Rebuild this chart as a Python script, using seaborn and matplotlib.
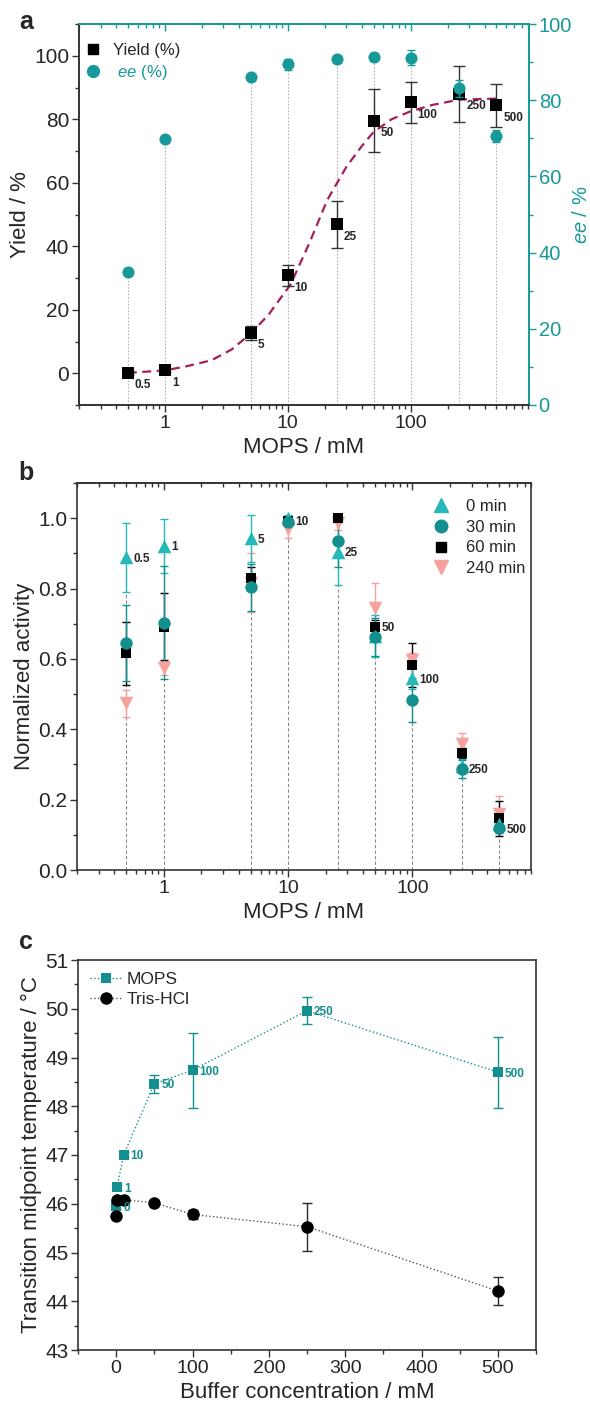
import matplotlib
matplotlib.use("Agg")
import numpy as np
import matplotlib.pyplot as plt
from matplotlib.ticker import FuncFormatter, MultipleLocator, NullFormatter, FormatStrFormatter
from matplotlib.lines import Line2D
import seaborn as sns

sns.set_style("ticks")
plt.rcParams['font.family'] = ['Liberation Sans', 'DejaVu Sans']
plt.rcParams['mathtext.fontset'] = 'custom'
plt.rcParams['mathtext.rm'] = 'Liberation Sans'
plt.rcParams['mathtext.it'] = 'Liberation Sans:italic'

TEAL = '#17999a'
TEAL_LIGHT = '#25b9b9'
TEAL_DARK = '#148f8f'
PINK = '#f5a29d'
CRIMSON = '#a51d5c'
SPINE = '#333333'
NARROW = ['Liberation Sans Narrow', 'Liberation Sans']

# ---- panel a: yield and ee vs MOPS
mops_a = [0.5, 1, 5, 10, 25, 50, 100, 250, 500]
yield_pct = [0.1, 0.9, 12.7, 30.8, 46.9, 79.6, 85.3, 88.0, 84.4]
yield_err = [0.5, 0.5, 2.2, 3.3, 7.4, 10.0, 6.4, 8.8, 6.8]
ee_pct = [34.9, 69.7, 86.1, 89.4, 90.8, 91.4, 91.2, 83.1, 70.6]
ee_err = [0.5, 0.6, 0.8, 1.5, 0.8, 1.0, 2.0, 2.2, 1.5]
# fitted curve
fit_x = [0.5, 1, 1.5, 2.4, 3.5, 5, 7, 8.5, 10.5, 15, 21, 30, 40, 50, 70, 100, 150, 250, 500]
fit_y = [0.1, 0.9, 2.2, 4.1, 7.5, 12.5, 18.5, 23, 27.8, 41, 54.6, 65, 71.5, 76, 80, 82.5, 84.5, 86.2, 86.5]

# ---- panel b: normalized activity vs MOPS
mops_b = [0.5, 1, 5, 10, 25, 50, 100, 250, 500]
act_0 = [0.889, 0.921, 0.943, 1.0, 0.905, 0.665, 0.545, 0.296, 0.130]
err_0 = [0.098, 0.077, 0.067, 0.010, 0.095, 0.060, 0.030, 0.020, 0.020]
act_30 = [0.646, 0.703, 0.803, 0.990, 0.935, 0.662, 0.483, 0.287, 0.119]
err_30 = [0.108, 0.160, 0.067, 0.010, 0.073, 0.055, 0.062, 0.025, 0.015]
act_60 = [0.616, 0.692, 0.831, 0.993, 1.0, 0.692, 0.583, 0.332, 0.147]
err_60 = [0.090, 0.095, 0.030, 0.010, 0.010, 0.020, 0.062, 0.015, 0.050]
act_240 = [0.474, 0.573, 0.817, 0.970, 0.985, 0.744, 0.597, 0.358, 0.158]
err_240 = [0.038, 0.020, 0.083, 0.025, 0.020, 0.071, 0.020, 0.030, 0.052]
label_series_b = ['0 min', '0 min', '0 min', '60 min', '0 min', '60 min', '0 min', '30 min', '30 min']

# ---- panel c: Tm vs buffer concentration
conc_c = [0, 1, 10, 50, 100, 250, 500]
tm_mops = [45.95, 46.34, 47.01, 48.46, 48.74, 49.96, 48.70]
tm_mops_err = [0.05, 0.05, 0.05, 0.18, 0.77, 0.28, 0.73]
tm_tris = [45.75, 46.08, 46.08, 46.02, 45.78, 45.53, 44.21]
tm_tris_err = [0.05, 0.05, 0.05, 0.06, 0.10, 0.49, 0.28]

W, H = 590, 1417
fig = plt.figure(figsize=(W / 100, H / 100), dpi=100)


def box(l, r, t, b):
    return [l / W, 1 - b / H, (r - l) / W, (b - t) / H]


def style_spines(ax, color=SPINE):
    for s in ax.spines.values():
        s.set_color(color)
        s.set_linewidth(1.2)


def log_axis(ax):
    ax.set_xscale('log')
    ax.xaxis.set_major_formatter(FuncFormatter(lambda v, p: f"{v:g}"))
    ax.xaxis.set_minor_formatter(NullFormatter())


def ticks(ax, color=SPINE, **kw):
    ax.tick_params(which='both', direction='out', width=1, color=color, pad=2, **kw)
    ax.tick_params(which='major', length=5)
    ax.tick_params(which='minor', length=3)
    ax.tick_params(axis='x', labelsize=14)
    ax.tick_params(axis='y', labelsize=15)


def top_ticks(ax, color):
    sec = ax.secondary_xaxis('top')
    sec.tick_params(which='both', direction='in', labeltop=False, colors=color, width=1)
    sec.tick_params(which='major', length=5)
    sec.tick_params(which='minor', length=3)
    sec.xaxis.set_minor_formatter(NullFormatter())
    sec.spines['top'].set_color(color)
    sec.spines['top'].set_linewidth(1.2)
    return sec


# ================= panel a =================
ax = fig.add_axes(box(79, 529, 24, 405))
style_spines(ax)
log_axis(ax)
ax.set_xlim(0.2, 920)
ax.set_ylim(-10, 110)
ax2 = ax.twinx()
ax2.set_ylim(0, 100)
style_spines(ax2)
for a in (ax, ax2):
    a.spines['right'].set_color(TEAL)
    a.spines['top'].set_color(TEAL)

# drop lines from the ee points, drawn beneath the yield marks
ax.vlines(mops_a, 0, ee_pct, colors='#b5b5b5', linestyles=(0, (1.5, 1.5)), lw=0.8,
          zorder=0, transform=ax2.transData)

sns.lineplot(x=fit_x, y=fit_y, ax=ax, color=CRIMSON, lw=1.6, linestyle=(0, (4, 2.5)),
             sort=False, estimator=None, zorder=2)
ax.errorbar(mops_a, yield_pct, yerr=yield_err, fmt='none', ecolor=SPINE, elinewidth=1,
            capsize=4, capthick=1, zorder=3)
sns.scatterplot(x=mops_a, y=yield_pct, ax=ax, marker='s', color='k', s=64, linewidth=0,
                zorder=4, legend=False)
for xv, yv in zip(mops_a, yield_pct):
    ax.annotate(f"{xv:g}", (xv, yv), xytext=(5, -9), textcoords='offset points',
                ha='left', va='center', fontsize=8.5, fontweight='bold', family=NARROW)

ax2.errorbar(mops_a, ee_pct, yerr=ee_err, fmt='none', ecolor=TEAL, elinewidth=1,
             capsize=3, capthick=1, zorder=3)
sns.scatterplot(x=mops_a, y=ee_pct, ax=ax2, marker='o', color=TEAL, s=76, linewidth=0,
                zorder=4, legend=False)

ax.yaxis.set_major_locator(MultipleLocator(20))
ax.yaxis.set_minor_locator(MultipleLocator(10))
ax2.yaxis.set_major_locator(MultipleLocator(20))
ax2.yaxis.set_minor_locator(MultipleLocator(10))
ticks(ax, top=False)
ax2.tick_params(which='both', direction='out', width=1, colors=TEAL, labelsize=14.5, pad=2)
ax2.tick_params(which='major', length=5)
ax2.tick_params(which='minor', length=3)
top_ticks(ax, TEAL)
ax.set_xlabel('MOPS / mM', fontsize=16)
ax.set_ylabel('Yield / %', fontsize=16, labelpad=2)
ax2.set_ylabel(r'$\mathit{ee}$ / %', fontsize=14.5, color=TEAL, labelpad=0)

leg_a = ax.legend(handles=[Line2D([], [], marker='s', color='k', ls='none', ms=7),
                           Line2D([], [], marker='o', color=TEAL, ls='none', ms=8.5)],
                  labels=['Yield (%)', r' $\mathit{ee}$ (%)'], loc='upper left',
                  bbox_to_anchor=(-0.035, 0.985), frameon=False, fontsize=12,
                  handletextpad=0.2, labelspacing=0.3, borderaxespad=0.4)
leg_a.get_texts()[1].set_color(TEAL)
leg_a.set_zorder(10)

# ================= panel b =================
bx = fig.add_axes(box(77, 531, 483, 870))
style_spines(bx)
log_axis(bx)
bx.set_xlim(0.2, 900)
bx.set_ylim(0, 1.1)

series_b = [
    ('240 min', act_240, err_240, 'v', PINK, 95),
    ('60 min', act_60, err_60, 's', 'k', 62),
    ('0 min', act_0, err_0, '^', TEAL_LIGHT, 95),
    ('30 min', act_30, err_30, 'o', TEAL_DARK, 80),
]
tops = np.max(np.vstack([act_0, act_30, act_60, act_240]), axis=0)
bx.vlines(mops_b, 0, tops, colors='#8a8a8a', linestyles=(0, (3, 2)), lw=0.8, zorder=0)
for name, vals, errs, mk, col, sz in series_b:
    bx.errorbar(mops_b, vals, yerr=errs, fmt='none', ecolor=col, elinewidth=1,
                capsize=3, capthick=1, zorder=2)
for name, vals, errs, mk, col, sz in series_b:
    sns.scatterplot(x=mops_b, y=vals, ax=bx, marker=mk, color=col, s=sz, linewidth=0,
                    zorder=3, legend=False)
lookup_b = {name: vals for name, vals, *_ in series_b}
for i, (xv, key) in enumerate(zip(mops_b, label_series_b)):
    bx.annotate(f"{xv:g}", (xv, lookup_b[key][i]), xytext=(5, -1), textcoords='offset points',
                ha='left', va='center', fontsize=8.5, fontweight='bold', family=NARROW)

bx.yaxis.set_major_locator(MultipleLocator(0.2))
bx.yaxis.set_minor_locator(MultipleLocator(0.1))
bx.yaxis.set_major_formatter(FormatStrFormatter('%.1f'))
ticks(bx, top=False, right=False)
top_ticks(bx, SPINE)
bx.set_xlabel('MOPS / mM', fontsize=16)
bx.set_ylabel('Normalized activity', fontsize=16, labelpad=2)
leg_handles = [
    Line2D([], [], marker='^', color=TEAL_LIGHT, ls='none', ms=9.5),
    Line2D([], [], marker='o', color=TEAL_DARK, ls='none', ms=9),
    Line2D([], [], marker='s', color='k', ls='none', ms=7.5),
    Line2D([], [], marker='v', color=PINK, ls='none', ms=9.5),
]
bx.legend(handles=leg_handles, labels=['0 min', '30 min', '60 min', '240 min'], loc='upper right',
          bbox_to_anchor=(1.01, 0.985), frameon=False, fontsize=12, handletextpad=0.5,
          labelspacing=0.35, borderaxespad=0.2)

# ================= panel c =================
cx = fig.add_axes(box(78, 536, 960, 1350))
style_spines(cx)
cx.set_xlim(-50, 550)
cx.set_ylim(43, 51)
cx.errorbar(conc_c, tm_mops, yerr=tm_mops_err, fmt='none', ecolor=TEAL_DARK, elinewidth=1,
            capsize=3.5, capthick=1, zorder=2)
cx.errorbar(conc_c, tm_tris, yerr=tm_tris_err, fmt='none', ecolor='#2a2a2a', elinewidth=1,
            capsize=3.5, capthick=1, zorder=2)
sns.lineplot(x=conc_c, y=tm_mops, ax=cx, color=TEAL_DARK, lw=1, linestyle=':', marker='s',
             markersize=7.5, markeredgewidth=0, sort=False, estimator=None, label='MOPS', zorder=3)
sns.lineplot(x=conc_c, y=tm_tris, ax=cx, color='#555555', lw=1, linestyle=':', marker='o',
             markersize=9, markeredgewidth=0, markerfacecolor='k', sort=False, estimator=None,
             label='Tris-HCl', zorder=3)
for xv, yv in zip(conc_c, tm_mops):
    cx.annotate(f"{xv:g}", (xv, yv), xytext=(5, -1), textcoords='offset points',
                ha='left', va='center', fontsize=8.5, fontweight='bold', family=NARROW,
                color=TEAL_DARK)

cx.xaxis.set_major_locator(MultipleLocator(100))
cx.xaxis.set_minor_locator(MultipleLocator(50))
cx.yaxis.set_major_locator(MultipleLocator(1))
cx.yaxis.set_minor_locator(MultipleLocator(0.5))
ticks(cx, top=False, right=False)
cx.set_xlabel('Buffer concentration / mM', fontsize=16)
cx.set_ylabel('Transition midpoint temperature / °C', fontsize=16, labelpad=2)
cx.legend(loc='upper left', frameon=False, fontsize=12.5, handlelength=1.8,
          handletextpad=0.3, labelspacing=0.25, borderaxespad=0.3)

# panel letters
for txt, yy in [('a', 22), ('b', 473), ('c', 942)]:
    fig.text(26 / W, 1 - yy / H, txt, fontsize=18, fontweight='bold', ha='center', va='center')

fig.savefig('out.png', dpi=100)
